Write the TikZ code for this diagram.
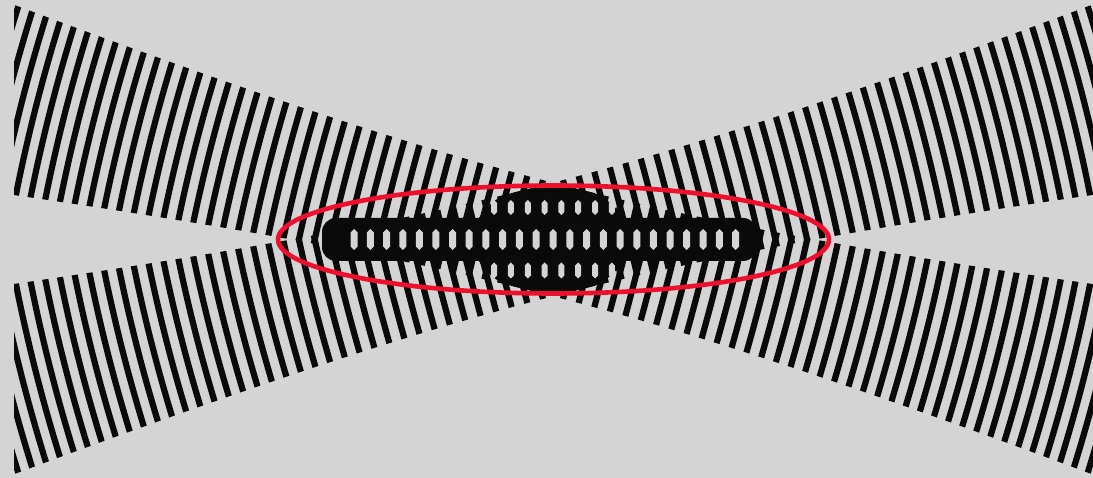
\documentclass[tikz,border=0pt]{standalone}
\definecolor{bg}{RGB}{212,212,212}
\definecolor{ink}{RGB}{10,10,10}
\definecolor{ring}{RGB}{236,16,46}
\tikzset{
  stripe/.style={ink, line width=6.2pt},
  halo/.style={ring, line width=4.6pt},
  gap/.style={fill=bg}
}
% phase-solve: z such that k z - g atan(z/zg) = #1
\newcommand{\solvez}[2]{%
  \pgfmathsetmacro#2{(#1)/\kk}%
  \pgfmathsetmacro#2{((#1)+\gg*rad(atan(#2/\zg)))/\kk}%
  \pgfmathsetmacro#2{((#1)+\gg*rad(atan(#2/\zg)))/\kk}%
  \pgfmathsetmacro#2{((#1)+\gg*rad(atan(#2/\zg)))/\kk}%
  \pgfmathsetmacro#2{((#1)+\gg*rad(atan(#2/\zg)))/\kk}%
  \pgfmathsetmacro#2{((#1)+\gg*rad(atan(#2/\zg)))/\kk}}
\newcommand{\envelope}{plot[domain=-780:780, samples=90] (\x, {\wz*sqrt(1+(\x/\zr)^2)})
      -- plot[domain=780:-780, samples=90] (\x, {-\wz*sqrt(1+(\x/\zr)^2)}) -- cycle}
\newcommand{\beamstripes}[1]{%
  \begin{scope}[rotate=#1]
    \clip \envelope;
    \foreach \n in {-47,...,46}{
      \solvez{6.28319*(\n+0.5)}{\z}
      \pgfmathsetmacro\h{1.4*\wz*sqrt(1+(\z/\zr)^2)}
      \pgfmathsetmacro\u{\z/100}
      \pgfmathsetmacro\s{0.5*(\h/100)*(\h/100)*\u*100/(2*(\u*\u+(\zr/100)*(\zr/100)))}
      \draw[stripe] (\z-\s,-\h) .. controls (\z+\s/3,-\h/3) and (\z+\s/3,\h/3) .. (\z-\s,\h);
    }
  \end{scope}}
\newcommand{\hole}[4]{%
  \fill[gap] (#1,#2-#4/2) -- (#1+#3/2,#2-#4/2+#3/2) -- (#1+#3/2,#2+#4/2-#3/2)
    -- (#1,#2+#4/2) -- (#1-#3/2,#2+#4/2-#3/2) -- (#1-#3/2,#2-#4/2+#3/2) -- cycle;}
\begin{document}
\begin{tikzpicture}[x=1pt,y=-1pt]
\def\kk{0.4363}
\def\gg{15.25}
\def\zg{300}
\def\wz{55}
\def\zr{414}
\fill[bg] (0,0) rectangle (1093,478);
\useasboundingbox (0,0) rectangle (1093,478);
\begin{scope}
  \clip (14,0) rectangle (1093,478);
  \begin{scope}[shift={(553,239.5)}]
    \beamstripes{-14.26}
    \beamstripes{14.26}
    % dense overlap core
    \begin{scope}
      \clip[rotate=-14.26] \envelope;
      \clip[rotate=14.26] \envelope;
      \fill[ink] (-2,0) ellipse [x radius=78, y radius=56];
    \end{scope}
    \fill[ink, rounded corners=14pt] (-231,-21.5) rectangle (204,21.5);
    % holes of the middle row
    \foreach \n in {-16,...,16}{
      \solvez{6.28319*\n}{\zz}
      \pgfmathsetmacro\xx{\zz/0.96918}
      \pgfmathtruncatemacro\ok{and(\xx>-207,\xx<192)}
      \ifnum\ok=1 \hole{\xx}{0}{7}{21}\fi
    }
    % holes of the upper and lower rows
    \foreach \n in {-6,...,5}{
      \solvez{6.28319*(\n+0.5)}{\zz}
      \pgfmathsetmacro\xx{\zz/0.96918}
      \pgfmathtruncatemacro\ok{abs(\xx)<62}
      \ifnum\ok=1 \hole{\xx}{-32}{6}{15}\hole{\xx}{31}{6}{16}\fi
    }
  \end{scope}
\end{scope}
\draw[halo] (553.5,239.5) ellipse [x radius=275.5, y radius=54];
\end{tikzpicture}
\end{document}
